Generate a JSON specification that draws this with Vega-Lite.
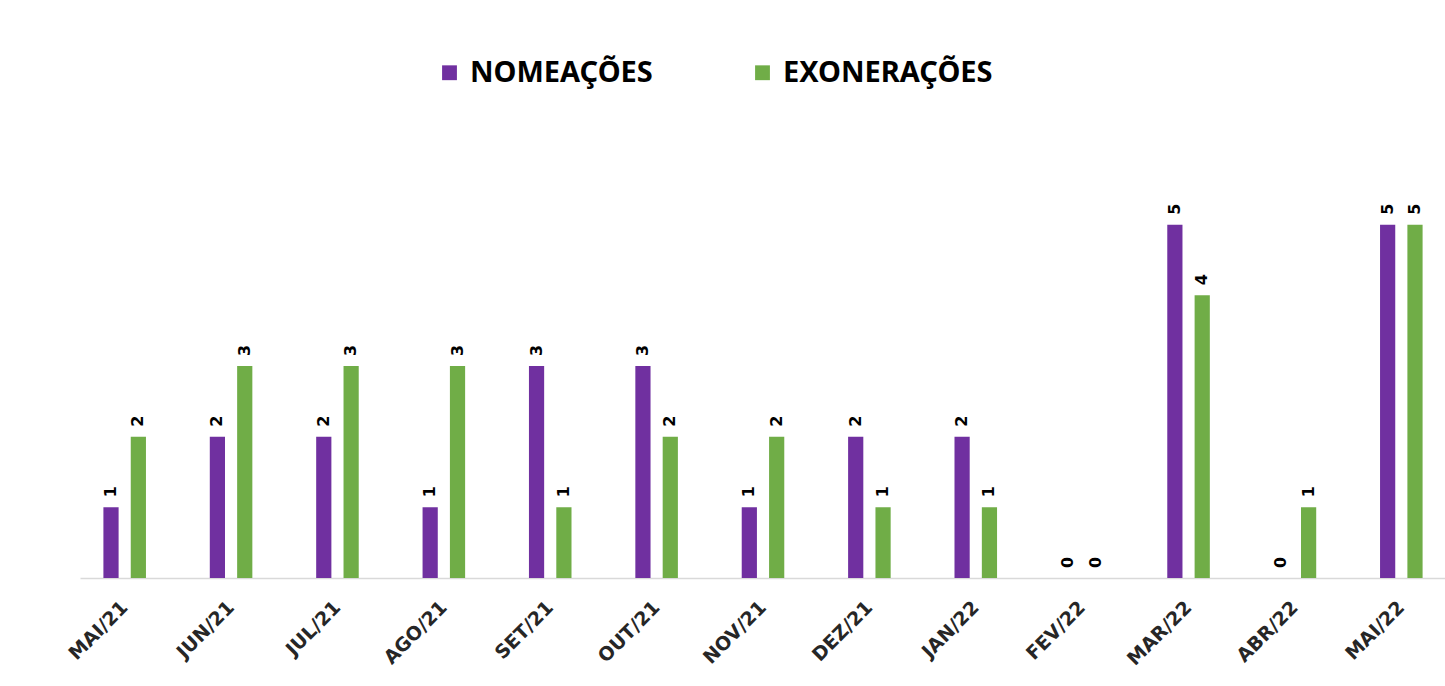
{
  "$schema": "https://vega.github.io/schema/vega-lite/v6.json",
  "autosize": {"type": "none"},
  "width": 1366,
  "height": 424,
  "padding": {"left": 80, "top": 154, "right": 0, "bottom": 108},
  "background": "white",
  "config": {"view": {"stroke": null}},
  "data": {
    "values": [
      {"mes": "MAI/21", "tipo": "NOMEAÇÕES", "valor": 1},
      {"mes": "MAI/21", "tipo": "EXONERAÇÕES", "valor": 2},
      {"mes": "JUN/21", "tipo": "NOMEAÇÕES", "valor": 2},
      {"mes": "JUN/21", "tipo": "EXONERAÇÕES", "valor": 3},
      {"mes": "JUL/21", "tipo": "NOMEAÇÕES", "valor": 2},
      {"mes": "JUL/21", "tipo": "EXONERAÇÕES", "valor": 3},
      {"mes": "AGO/21", "tipo": "NOMEAÇÕES", "valor": 1},
      {"mes": "AGO/21", "tipo": "EXONERAÇÕES", "valor": 3},
      {"mes": "SET/21", "tipo": "NOMEAÇÕES", "valor": 3},
      {"mes": "SET/21", "tipo": "EXONERAÇÕES", "valor": 1},
      {"mes": "OUT/21", "tipo": "NOMEAÇÕES", "valor": 3},
      {"mes": "OUT/21", "tipo": "EXONERAÇÕES", "valor": 2},
      {"mes": "NOV/21", "tipo": "NOMEAÇÕES", "valor": 1},
      {"mes": "NOV/21", "tipo": "EXONERAÇÕES", "valor": 2},
      {"mes": "DEZ/21", "tipo": "NOMEAÇÕES", "valor": 2},
      {"mes": "DEZ/21", "tipo": "EXONERAÇÕES", "valor": 1},
      {"mes": "JAN/22", "tipo": "NOMEAÇÕES", "valor": 2},
      {"mes": "JAN/22", "tipo": "EXONERAÇÕES", "valor": 1},
      {"mes": "FEV/22", "tipo": "NOMEAÇÕES", "valor": 0},
      {"mes": "FEV/22", "tipo": "EXONERAÇÕES", "valor": 0},
      {"mes": "MAR/22", "tipo": "NOMEAÇÕES", "valor": 5},
      {"mes": "MAR/22", "tipo": "EXONERAÇÕES", "valor": 4},
      {"mes": "ABR/22", "tipo": "NOMEAÇÕES", "valor": 0},
      {"mes": "ABR/22", "tipo": "EXONERAÇÕES", "valor": 1},
      {"mes": "MAI/22", "tipo": "NOMEAÇÕES", "valor": 5},
      {"mes": "MAI/22", "tipo": "EXONERAÇÕES", "valor": 5}
    ]
  },
  "encoding": {
    "x": {
      "field": "mes",
      "type": "nominal",
      "sort": null,
      "scale": {"paddingInner": 0.6, "paddingOuter": 0.22},
      "axis": {
        "title": null,
        "labelAngle": -45,
        "labelAlign": "right",
        "labelBaseline": "middle",
        "labelPadding": 26,
        "labelFont": "DejaVu Sans",
        "labelFontWeight": "bold",
        "labelFontSize": 19,
        "labelColor": "#262626",
        "ticks": false,
        "domainColor": "#d9d9d9",
        "domainWidth": 1.5
      }
    },
    "xOffset": {
      "field": "tipo",
      "type": "nominal",
      "sort": ["NOMEAÇÕES", "EXONERAÇÕES"],
      "scale": {"paddingInner": 0.444, "paddingOuter": 0}
    },
    "y": {
      "field": "valor",
      "type": "quantitative",
      "scale": {"domain": [0, 6]},
      "axis": null
    }
  },
  "layer": [
    {
      "mark": {"type": "bar"},
      "encoding": {
        "color": {
          "field": "tipo",
          "type": "nominal",
          "scale": {"domain": ["NOMEAÇÕES", "EXONERAÇÕES"], "range": ["#7030A0", "#70AD47"]},
          "legend": {
            "title": null,
            "orient": "none",
            "legendX": 355,
            "legendY": -96,
            "direction": "horizontal",
            "symbolType": "square",
            "symbolSize": 220,
            "symbolStrokeWidth": 0,
            "labelFont": "Noto Sans",
            "labelFontWeight": "bold",
            "labelFontSize": 29,
            "labelColor": "#000000",
            "labelOffset": 6,
            "columnPadding": 95,
            "labelLimit": 400
          }
        }
      }
    },
    {
      "mark": {
        "type": "text",
        "angle": 270,
        "align": "left",
        "baseline": "middle",
        "dx": 10,
        "font": "DejaVu Sans",
        "fontWeight": "bold",
        "fontSize": 16,
        "color": "#000000"
      },
      "encoding": {
        "text": {"field": "valor", "type": "quantitative"}
      }
    }
  ]
}
